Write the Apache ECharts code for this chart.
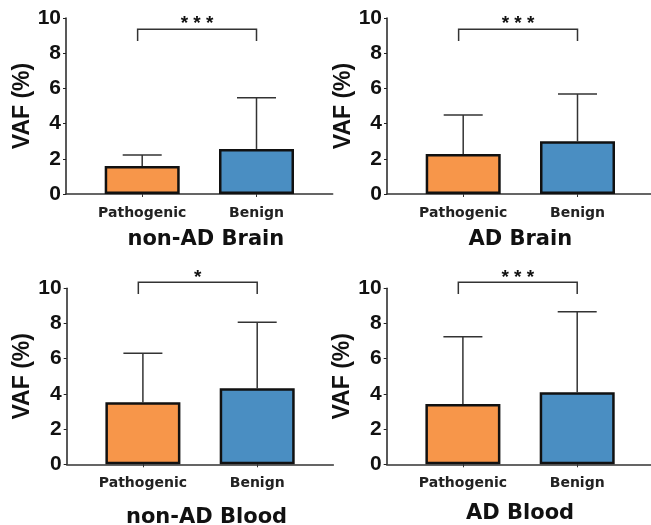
<!DOCTYPE html>
<html>
<head>
<meta charset="utf-8">
<script src="https://cdn.jsdelivr.net/npm/echarts@6/dist/echarts.min.js"></script>
<style>
  html, body { margin: 0; padding: 0; background: #fff; }
  #chart { width: 651px; height: 525px; }
</style>
</head>
<body>
<div id="chart"></div>
<script>
// categories and panel names
var categories = ['Pathogenic', 'Benign'];
var panelTitles = ['non-AD Brain', 'AD Brain', 'non-AD Blood', 'AD Blood'];

// mean VAF (%) per category, one array per panel
var meanNonADBrain = [1.59, 2.56];
var meanADBrain = [2.27, 3.00];
var meanNonADBlood = [3.52, 4.32];
var meanADBlood = [3.43, 4.09];

// standard deviation (upper error bar) per category
var sdNonADBrain = [0.63, 2.91];
var sdADBrain = [2.22, 2.68];
var sdNonADBlood = [2.79, 3.75];
var sdADBlood = [3.82, 4.58];

// significance bracket: label and height (in VAF units)
var sigLabels = ['* * *', '* * *', '*', '* * *'];
var sigHeights = [9.36, 9.36, 10.34, 10.34];

// y axis ticks
var yMin = 0, yMax = 10, yStep = 2;

var means = [meanNonADBrain, meanADBrain, meanNonADBlood, meanADBlood];
var sds = [sdNonADBrain, sdADBrain, sdNonADBlood, sdADBlood];
var barColors = ['#F7964A', '#4A8EC2'];

// keep grids where they are even if labels run past the canvas
var grids = [
  {left: 66, top: 18, width: 266.7, height: 176, outerBoundsMode: 'none'},
  {left: 387, top: 18, width: 266.7, height: 176, outerBoundsMode: 'none'},
  {left: 66.7, top: 288.3, width: 266.7, height: 176, outerBoundsMode: 'none'},
  {left: 386.7, top: 288.3, width: 266.7, height: 176, outerBoundsMode: 'none'}
];
var titleGaps = [35, 35, 43, 39];
var titleShift = [13, 0, 13, 0];

var xAxes = [], yAxes = [], series = [];

for (var i = 0; i < 4; i++) {
  xAxes.push({
    gridIndex: i,
    type: 'value',
    min: 1 / 3,
    max: 8 / 3,
    name: panelTitles[i],
    nameLocation: 'middle',
    nameGap: titleGaps[i],
    nameTextStyle: {
      fontFamily: 'DejaVu Sans', fontWeight: 'bold', fontSize: 21, color: '#111',
      padding: [0, 0, 0, titleShift[i]]
    },
    axisLine: {show: true, lineStyle: {color: '#333', width: 1.5}},
    axisTick: {show: true, length: 3, customValues: [1, 2], lineStyle: {color: '#333'}},
    axisLabel: {
      customValues: [1, 2],
      margin: 12,
      formatter: function (v) { return categories[Math.round(v) - 1] || ''; },
      fontFamily: 'DejaVu Sans', fontWeight: 'bold', fontSize: 14, color: '#222'
    },
    splitLine: {show: false}
  });
  yAxes.push({
    gridIndex: i,
    type: 'value',
    min: yMin,
    max: yMax,
    interval: yStep,
    name: 'VAF (%)',
    nameLocation: 'middle',
    nameGap: 27,
    nameTextStyle: {fontFamily: 'Liberation Sans', fontWeight: 'bold', fontSize: 23, color: '#111'},
    axisLine: {show: true, lineStyle: {color: '#222', width: 1.5}},
    axisTick: {show: true, length: 3, lineStyle: {color: '#222'}},
    axisLabel: {margin: 5, fontFamily: 'Liberation Sans', fontWeight: 'bold', fontSize: 21, color: '#111'},
    splitLine: {show: false}
  });

  var barData = means[i].map(function (m, k) {
    return {value: [k + 1, m], itemStyle: {color: barColors[k]}};
  });
  series.push({
    type: 'bar',
    xAxisIndex: i,
    yAxisIndex: i,
    barWidth: 75,
    data: barData,
    itemStyle: {borderColor: '#111', borderWidth: 2.5},
    z: 3
  });

  var errData = means[i].map(function (m, k) { return [k + 1, m, sds[i][k]]; });
  series.push({
    type: 'custom',
    xAxisIndex: i,
    yAxisIndex: i,
    data: errData,
    z: 2,
    renderItem: function (params, api) {
      var x = api.value(0), m = api.value(1), s = api.value(2);
      var p0 = api.coord([x, m]);
      var p1 = api.coord([x, m + s]);
      var half = 19.5;
      return {
        type: 'group',
        children: [
          {type: 'line', shape: {x1: p0[0], y1: p0[1], x2: p1[0], y2: p1[1]}, style: {stroke: '#333', lineWidth: 1.5}},
          {type: 'line', shape: {x1: p1[0] - half, y1: p1[1], x2: p1[0] + half, y2: p1[1]}, style: {stroke: '#333', lineWidth: 1.5}}
        ]
      };
    }
  });

  // significance bracket between the two bars
  (function (idx) {
    series.push({
      type: 'custom',
      xAxisIndex: idx,
      yAxisIndex: idx,
      clip: false,
      silent: true,
      data: [[0.96, 2.0, sigHeights[idx], sigHeights[idx] - 0.66]],
      z: 4,
      renderItem: function (params, api) {
        var a = api.coord([api.value(0), api.value(3)]);
        var b = api.coord([api.value(0), api.value(2)]);
        var c = api.coord([api.value(1), api.value(2)]);
        var d = api.coord([api.value(1), api.value(3)]);
        return {
          type: 'group',
          children: [
            {type: 'polyline', shape: {points: [a, b, c, d]}, style: {stroke: '#333', lineWidth: 1.5, fill: null}},
            {type: 'text', style: {
              x: (b[0] + c[0]) / 2, y: b[1] - 5,
              text: sigLabels[idx], align: 'center', verticalAlign: 'middle',
              font: 'bold 19px "Liberation Sans"', fill: '#111'
            }}
          ]
        };
      }
    });
  })(i);
}

var option = {
  backgroundColor: '#fff',
  animation: false,
  grid: grids,
  xAxis: xAxes,
  yAxis: yAxes,
  series: series
};

var myChart = echarts.init(document.getElementById('chart'));
myChart.setOption(option);
</script>
</body>
</html>
